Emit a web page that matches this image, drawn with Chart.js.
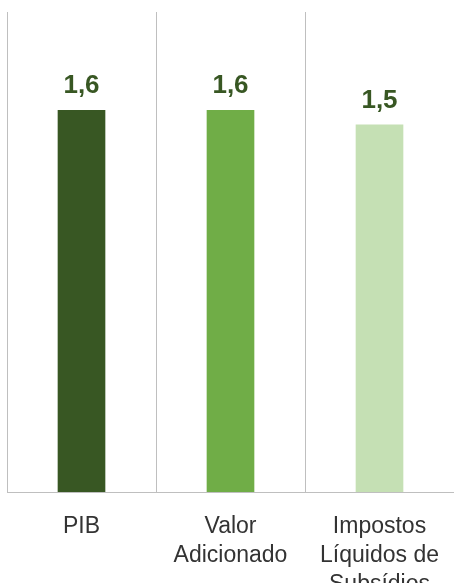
<!DOCTYPE html>
<html>
<head>
<meta charset="utf-8">
<script src="https://cdn.jsdelivr.net/npm/chart.js@4"></script>
<style>
    html, body { margin: 0; padding: 0; overflow: hidden; background: #fff; }
    canvas { display: block; }
</style>
</head>
<body>
<canvas id="barChart" width="454" height="583"></canvas>
<script>
const categories = [["PIB"], ["Valor", "Adicionado"], ["Impostos", "Líquidos de", "Subsídios"]];
const values = [1.59, 1.59, 1.53];
const barColors = ["#385723", "#70ad47", "#c5e0b4"];
const yTicks = [0, 2];

// valores por cima das barras
const valueLabels = {
    id: "valueLabels",
    afterDatasetsDraw(chart) {
        const ctx = chart.ctx;
        const meta = chart.getDatasetMeta(0);
        ctx.save();
        ctx.font = "bold 26px 'Liberation Sans', Arial, sans-serif";
        ctx.fillStyle = "#385723";
        ctx.textAlign = "center";
        ctx.textBaseline = "alphabetic";
        meta.data.forEach((bar, i) => {
            const txt = values[i].toFixed(1).replace(".", ",");
            ctx.fillText(txt, bar.x, bar.y - 17);
        });
        ctx.restore();
    }
};

function renderChart() {
    const ctx = document.getElementById("barChart").getContext("2d");

    new Chart(ctx, {
        type: "bar",
        data: {
            labels: categories,
            datasets: [{
                data: values,
                backgroundColor: barColors,
                barThickness: 47
            }]
        },
        options: {
            responsive: false,
            animation: false,
            devicePixelRatio: 1,
            // o eixo passa um pouco da borda, como no original
            layout: { padding: { top: 12, left: 7, right: -1, bottom: -36 } },
            plugins: {
                legend: { display: false },
                tooltip: { enabled: false }
            },
            scales: {
                x: {
                    afterFit: (scale) => {
                        scale.paddingLeft = 0;
                        scale.paddingRight = 0;
                    },
                    grid: {
                        offset: true,
                        color: "#bfbfbf",
                        drawTicks: false
                    },
                    border: { color: "#bfbfbf" },
                    ticks: {
                        color: "#333333",
                        padding: 20,
                        maxRotation: 0,
                        font: { family: "'Liberation Sans', Arial, sans-serif", size: 23, lineHeight: 1.26 }
                    }
                },
                y: {
                    display: false,
                    min: yTicks[0],
                    max: yTicks[1]
                }
            }
        },
        plugins: [valueLabels]
    });
}

document.addEventListener("DOMContentLoaded", () => {
    renderChart();
});
</script>
</body>
</html>
